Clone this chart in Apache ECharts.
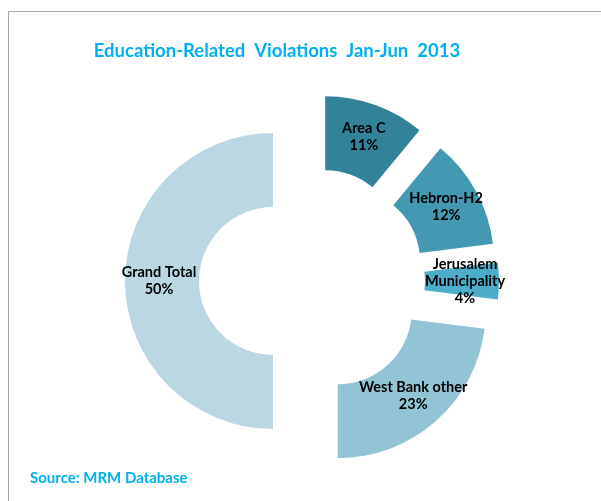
<!DOCTYPE html>
<html><head><meta charset="utf-8">
<script src="https://cdn.jsdelivr.net/npm/echarts@6/dist/echarts.min.js"></script>
<style>html,body{margin:0;padding:0;background:#fff}#c{width:601px;height:501px}</style>
</head><body><div id="c"></div>
<script>
const categories = ['Area C', 'Hebron-H2', 'Jerusalem Municipality', 'West Bank other', 'Grand Total'];
const values = [11, 12, 4, 23, 50];
const colors = ['#32829A', '#4299B1', '#4BADC7', '#93C4D6', '#BAD7E3'];
const titleText = 'Education-Related  Violations  Jan-Jun  2013';
const sourceText = 'Source: MRM Database';

const chart = echarts.init(document.getElementById('c'), null, {renderer: 'canvas'});
chart.setOption({
  animation: false,
  backgroundColor: '#fff',
  title: {
    text: titleText,
    left: 272, top: 37, textAlign: 'center',
    textStyle: {fontFamily: 'Lato', fontWeight: 'bold', fontSize: 18.5, color: '#00B0F0'}
  },
  graphic: [
    {type: 'rect', shape: {x: 8.5, y: 11.5, width: 700, height: 600}, style: {fill: 'none', stroke: '#A6A6A6', lineWidth: 1}, silent: true},
    {type: 'text', left: 30, top: 471, style: {text: sourceText, fontFamily: 'Lato', fontWeight: 'bold', fontSize: 15, fill: '#00B0F0'}}
  ],
  series: [{
    type: 'pie',
    center: [312, 281],
    radius: [74, 148],
    startAngle: 90,
    clockwise: true,
    selectedMode: 'multiple',
    selectedOffset: 39,
    emphasis: {disabled: true},
    label: {
      show: true, position: 'inside',
      fontFamily: 'Lato', fontWeight: 'bold', fontSize: 14.5, lineHeight: 17, color: '#000',
      formatter: p => (p.name.length > 18 ? p.name.replace(' ', '\n') : p.name) + '\n' + p.value + '%'
    },
    labelLine: {show: false},
    data: categories.map((n, i) => ({name: n, value: values[i], selected: true, itemStyle: {color: colors[i]}}))
  }]
});
</script></body></html>
